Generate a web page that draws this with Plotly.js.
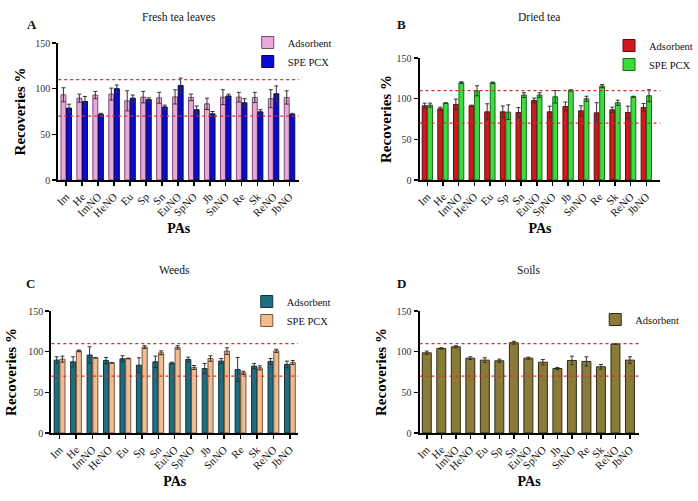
<!DOCTYPE html>
<html>
<head>
<meta charset="utf-8">
<script src="https://cdn.plot.ly/plotly-3.0.1.min.js"></script>
<style>html,body{margin:0;padding:0;background:#fff;}#chart{width:698px;height:501px;}</style>
</head>
<body>
<div id="chart"></div>
<script>
const categories = ["Im","He","ImNO","HeNO","Eu","Sp","Sn","EuNO","SpNO","Jb","SnNO","Re","Sk","ReNO","JbNO"];
const limits = [70, 110];
const yTicks = [0, 50, 100, 150];

// Panel A - Fresh tea leaves
const freshAds    = [93.3, 89.6, 93.0, 94.0, 86.7, 90.7, 90.0, 91.0, 90.4, 83.4, 90.7, 90.7, 90.4, 89.0, 90.4];
const freshAdsErr = [7.7, 4.4, 4.0, 6.6, 11.0, 6.3, 6.0, 7.8, 3.6, 6.2, 8.1, 5.3, 5.6, 9.8, 7.3];
const freshSpe    = [78.7, 86.0, 72.0, 100.0, 89.6, 88.0, 80.0, 103.5, 77.0, 72.4, 92.0, 84.5, 74.6, 94.4, 72.0];
const freshSpeErr = [4.3, 5.5, 1.0, 4.0, 3.4, 2.0, 2.0, 8.1, 4.0, 2.6, 2.0, 4.5, 2.4, 8.6, 1.0];

// Panel B - Dried tea
const driedAds    = [91.2, 87.5, 92.9, 91.2, 83.8, 83.8, 83.0, 97.8, 83.8, 90.4, 85.0, 82.6, 86.3, 83.0, 89.2];
const driedAdsErr = [3.3, 2.1, 6.6, 0.8, 9.9, 7.2, 6.0, 2.9, 7.0, 5.4, 6.2, 12.4, 3.3, 7.8, 4.8];
const driedSpe    = [92.0, 94.5, 119.6, 109.7, 119.6, 83.4, 104.4, 104.4, 102.3, 110.1, 99.9, 115.5, 95.0, 102.3, 103.6];
const driedSpeErr = [2.5, 0.5, 1.2, 6.2, 0.8, 9.0, 2.9, 2.9, 7.7, 0.9, 3.1, 2.0, 3.2, 0.7, 7.4];

// Panel C - Weeds
const weedAds    = [89.6, 87.5, 95.8, 89.2, 91.2, 83.4, 87.5, 85.9, 90.4, 79.3, 88.4, 78.0, 82.2, 88.0, 84.3];
const weedAdsErr = [4.1, 6.2, 10.2, 3.7, 3.8, 9.1, 7.0, 1.1, 2.9, 6.2, 3.2, 14.9, 3.3, 3.6, 4.1];
const weedSpe    = [90.8, 101.0, 92.5, 86.3, 91.6, 105.6, 98.6, 105.2, 80.6, 91.6, 100.7, 74.0, 80.1, 101.0, 86.7];
const weedSpeErr = [3.7, 1.0, 0.4, 0.4, 0.4, 1.7, 2.4, 2.1, 2.4, 3.4, 4.1, 2.0, 2.5, 2.0, 2.5];

// Panel D - Soils
const soilAds    = [98.6, 104.0, 106.0, 92.0, 89.6, 88.8, 111.0, 92.0, 87.0, 79.3, 89.2, 88.0, 81.4, 109.3, 89.6];
const soilAdsErr = [2.1, 0.8, 1.3, 1.7, 2.9, 2.0, 1.8, 1.3, 3.4, 1.3, 5.3, 5.7, 2.9, 0.4, 4.1];

const FONT = "Liberation Serif";

function barTrace(name, y, err, fill, line, xa, ya, legend) {
  return {
    type: "bar", name: name, x: categories, y: y,
    xaxis: xa, yaxis: ya, legend: legend,
    marker: {color: fill, line: {color: line, width: 1}},
    error_y: {type: "data", array: err, visible: true, color: "#333", thickness: 1, width: 2}
  };
}

const data = [
  barTrace("Adsorbent", freshAds, freshAdsErr, "#e8a9da", "#7d4a6e", "x", "y", "legend"),
  barTrace("SPE PCX", freshSpe, freshSpeErr, "#0a0ad2", "#00006a", "x", "y", "legend"),
  barTrace("Adsorbent", driedAds, driedAdsErr, "#cc1a1f", "#6a0a0a", "x2", "y2", "legend2"),
  barTrace("SPE PCX", driedSpe, driedSpeErr, "#3ddc3d", "#1a6a1a", "x2", "y2", "legend2"),
  barTrace("Adsorbent", weedAds, weedAdsErr, "#1f6e80", "#0c343c", "x3", "y3", "legend3"),
  barTrace("SPE PCX", weedSpe, weedSpeErr, "#f0bd93", "#7a5538", "x3", "y3", "legend3"),
  barTrace("Adsorbent", soilAds, soilAdsErr, "#8b7b3b", "#302a0e", "x4", "y4", "legend4")
];

function xAxis(domain, anchor, range) {
  return {
    domain: domain, anchor: anchor, type: "category", range: range,
    showline: true, linecolor: "#000", linewidth: 2, ticks: "outside", ticklen: 4,
    tickwidth: 1.5, tickcolor: "#000", tickangle: -45, showgrid: false, zeroline: false,
    tickfont: {family: FONT, size: 11, color: "#111"},
    title: {text: "<b>PAs</b>", font: {family: FONT, size: 14, color: "#000"}, standoff: 5},
    automargin: false
  };
}
function yAxis(domain, anchor, standoff) {
  return {
    domain: domain, anchor: anchor, range: [0, 150], tickvals: yTicks,
    showline: true, linecolor: "#000", linewidth: 2, ticks: "outside", ticklen: 4,
    tickwidth: 1.5, tickcolor: "#000", showgrid: false, zeroline: false,
    tickfont: {family: FONT, size: 10, color: "#333"},
    title: {text: "<b>Recoveries %</b>", font: {family: FONT, size: 15, color: "#000"}, standoff: standoff},
    automargin: false
  };
}

const panels = [["x","y"],["x2","y2"],["x3","y3"],["x4","y4"]];
const shapes = [];
panels.forEach(p => {
  limits.forEach(v => {
    shapes.push({type: "line", xref: p[0] + " domain", x0: 0, x1: 1, yref: p[1], y0: v, y1: v,
      line: {color: "#d03030", width: 1.2, dash: "dot"}, layer: "above"});
  });
});

function ann(text, x, y, size, bold) {
  return {text: bold ? "<b>" + text + "</b>" : text, xref: "paper", yref: "paper",
    x: x / 698, y: 1 - y / 501, xanchor: "center", yanchor: "middle", showarrow: false,
    font: {family: FONT, size: size, color: "#111"}};
}

const legendBase = {font: {family: FONT, size: 10.5, color: "#111"}, bgcolor: "rgba(0,0,0,0)",
  xanchor: "left", yanchor: "top", tracegroupgap: 0};

const layout = {
  width: 698, height: 501,
  margin: {l: 0, r: 0, t: 0, b: 0},
  paper_bgcolor: "#fff", plot_bgcolor: "#fff",
  barmode: "group", bargap: 0.3, bargroupgap: 0.12,
  font: {family: FONT},
  xaxis: xAxis([59/698, 303/698], "y", [-0.5, 14.6]),
  yaxis: yAxis([1 - 180/501, 1 - 43/501], "x", 6),
  xaxis2: xAxis([425/698, 669/698], "y2", [-0.5, 14.9]),
  yaxis2: yAxis([1 - 180/501, 1 - 58/501], "x2", 1),
  xaxis3: xAxis([52/698, 302/698], "y3", [-0.5, 14.5]),
  yaxis3: yAxis([1 - 433/501, 1 - 311/501], "x3", 8),
  xaxis4: xAxis([425/698, 647/698], "y4", [-0.5, 14.6]),
  yaxis4: yAxis([1 - 433/501, 1 - 311/501], "x4", 6),
  legend: Object.assign({}, legendBase, {x: 251/698, y: 1 - 28/501}),
  legend2: Object.assign({}, legendBase, {x: 617/698, y: 1 - 31/501}),
  legend3: Object.assign({}, legendBase, {x: 250/698, y: 1 - 287/501}),
  legend4: Object.assign({}, legendBase, {x: 603/698, y: 1 - 305/501}),
  shapes: shapes,
  annotations: [
    ann("Fresh tea leaves", 181, 17, 11.5, false),
    ann("A", 32, 25, 13, true),
    ann("Dried tea", 546, 17, 11.5, false),
    ann("B", 407, 25, 13, true),
    ann("Weeds", 177, 270, 11.5, false),
    ann("C", 31, 283, 13, true),
    ann("Soils", 536, 270, 11.5, false),
    ann("D", 407, 283, 13, true)
  ],
  showlegend: true
};

Plotly.newPlot("chart", data, layout, {staticPlot: true, displayModeBar: false});
</script>
</body>
</html>
